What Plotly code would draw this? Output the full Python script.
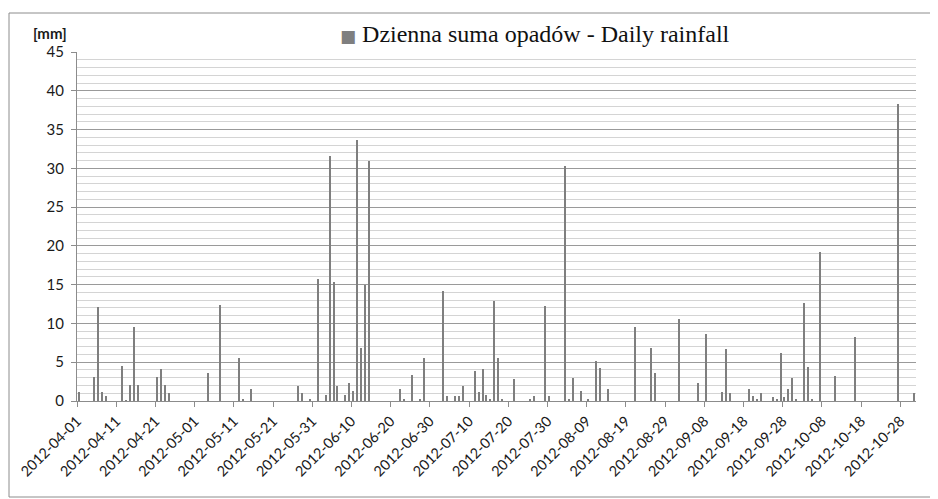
import plotly.graph_objects as go

dates = [
    "2012-04-01", "2012-04-05", "2012-04-06", "2012-04-07", "2012-04-08",
    "2012-04-12", "2012-04-13", "2012-04-14", "2012-04-15", "2012-04-16",
    "2012-04-21", "2012-04-22", "2012-04-23", "2012-04-24",
    "2012-05-04", "2012-05-07", "2012-05-12", "2012-05-13", "2012-05-15",
    "2012-05-27", "2012-05-28", "2012-05-30",
    "2012-06-01", "2012-06-03", "2012-06-04", "2012-06-05", "2012-06-06",
    "2012-06-08", "2012-06-09", "2012-06-10", "2012-06-11", "2012-06-12",
    "2012-06-13", "2012-06-14", "2012-06-22", "2012-06-23", "2012-06-25",
    "2012-06-27", "2012-06-28",
    "2012-07-03", "2012-07-04", "2012-07-06", "2012-07-07", "2012-07-08",
    "2012-07-11", "2012-07-12", "2012-07-13", "2012-07-14", "2012-07-15",
    "2012-07-16", "2012-07-17", "2012-07-18", "2012-07-21", "2012-07-25",
    "2012-07-26", "2012-07-29", "2012-07-30",
    "2012-08-03", "2012-08-04", "2012-08-05", "2012-08-07", "2012-08-09",
    "2012-08-11", "2012-08-12", "2012-08-14", "2012-08-21", "2012-08-25",
    "2012-08-26",
    "2012-09-01", "2012-09-06", "2012-09-08", "2012-09-12", "2012-09-13",
    "2012-09-14", "2012-09-19", "2012-09-20", "2012-09-21", "2012-09-22",
    "2012-09-25", "2012-09-26", "2012-09-27", "2012-09-28", "2012-09-29",
    "2012-09-30",
    "2012-10-01", "2012-10-03", "2012-10-04", "2012-10-05", "2012-10-07",
    "2012-10-11", "2012-10-16", "2012-10-27", "2012-10-31",
]

rainfall = [
    1.2, 3.1, 12.1, 1.2, 0.6,
    4.5, 0.1, 2.1, 9.5, 2.1,
    3.1, 4.1, 2.1, 1.0,
    3.6, 12.4, 5.6, 0.3, 1.5,
    1.9, 1.0, 0.3,
    15.7, 0.8, 31.6, 15.4, 1.9,
    0.8, 2.3, 1.3, 33.6, 6.8,
    15.0, 31.0, 1.6, 0.3, 3.4,
    0.3, 5.6,
    14.2, 0.6, 0.6, 0.6, 1.9,
    3.9, 1.2, 4.1, 0.8, 0.3,
    12.9, 5.6, 0.3, 2.8, 0.3,
    0.6, 12.2, 0.6,
    30.3, 0.3, 3.0, 1.3, 0.3,
    5.2, 4.2, 1.6, 9.6, 6.8,
    3.6,
    10.6, 2.3, 8.7, 1.2, 6.7,
    1.0, 1.6, 0.7, 0.3, 1.0,
    0.5, 0.3, 6.2, 0.5, 1.6,
    3.0,
    0.3, 12.6, 4.4, 0.3, 19.2,
    3.2, 8.2, 38.3, 1.0,
]

tick_labels = [
    "2012-04-01", "2012-04-11", "2012-04-21", "2012-05-01", "2012-05-11",
    "2012-05-21", "2012-05-31", "2012-06-10", "2012-06-20", "2012-06-30",
    "2012-07-10", "2012-07-20", "2012-07-30", "2012-08-09", "2012-08-19",
    "2012-08-29", "2012-09-08", "2012-09-18", "2012-09-28", "2012-10-08",
    "2012-10-18", "2012-10-28",
]

series_name = "Dzienna suma opadów - Daily rainfall"
DAY_MS = 86400000
BAR_COLOR = "#7f7f7f"

fig = go.Figure()
fig.add_trace(go.Bar(
    x=dates, y=rainfall, name=series_name,
    marker=dict(color=BAR_COLOR, line=dict(width=0)),
    width=[0.38 * DAY_MS] * len(dates),
    xperiod=DAY_MS, xperiodalignment="middle",
    showlegend=False,
))

# page body has an 8px margin, so the figure is 8px smaller in each direction
fig.update_layout(
    width=930, height=491,
    margin=dict(l=69, r=22, t=44, b=98, autoexpand=False),
    paper_bgcolor="white", plot_bgcolor="white",
    font=dict(family="Lato", size=14, color="#222222"),
    bargap=0,
    showlegend=False,
    xaxis=dict(
        type="date",
        range=["2012-04-01", "2012-11-01"],
        tickmode="array", tickvals=tick_labels, ticktext=tick_labels,
        tickangle=-45,
        ticks="outside", ticklen=5, tickcolor="#8c8c8c",
        showline=True, linecolor="#8c8c8c", linewidth=1,
        showgrid=False, zeroline=False, automargin=False,
        tickfont=dict(family="Lato", size=14.5, color="#1a1a1a"),
    ),
    yaxis=dict(
        range=[0, 45], dtick=5, tick0=0,
        ticks="outside", ticklen=5, tickcolor="#8c8c8c",
        showline=True, linecolor="#8c8c8c", linewidth=1,
        showgrid=True, gridcolor="#9a9a9a", gridwidth=1,
        minor=dict(dtick=1, showgrid=True, gridcolor="#d4d4d4", gridwidth=1),
        zeroline=False, automargin=False,
        tickfont=dict(family="Lato", size=15, color="#1a1a1a"),
        ticklabelstandoff=4,
    ),
    shapes=[dict(
        type="rect", xref="paper", yref="paper",
        x0=(9 - 77) / 839, x1=(931 - 77) / 839,
        y0=(401 - 497) / 349, y1=(401 - 13) / 349,
        line=dict(color="#8c8c8c", width=1), layer="below",
    )],
    annotations=[
        dict(
            text="<b>[mm]</b>", xref="paper", yref="paper",
            x=(50 - 77) / 839, y=(401 - 33) / 349,
            xanchor="center", yanchor="middle", showarrow=False,
            font=dict(family="Lato", size=15, color="#1a1a1a"),
        ),
        dict(
            text=(f"<span style='font-family:DejaVu Sans;font-size:17px;"
                  f"color:{BAR_COLOR}'>■</span> " + series_name),
            xref="paper", yref="paper",
            x=(338 - 77) / 839, y=(401 - 34) / 349,
            xanchor="left", yanchor="middle", showarrow=False,
            font=dict(family="Liberation Serif", size=24, color="#111111"),
        ),
    ],
)

fig.write_html("out.html")
